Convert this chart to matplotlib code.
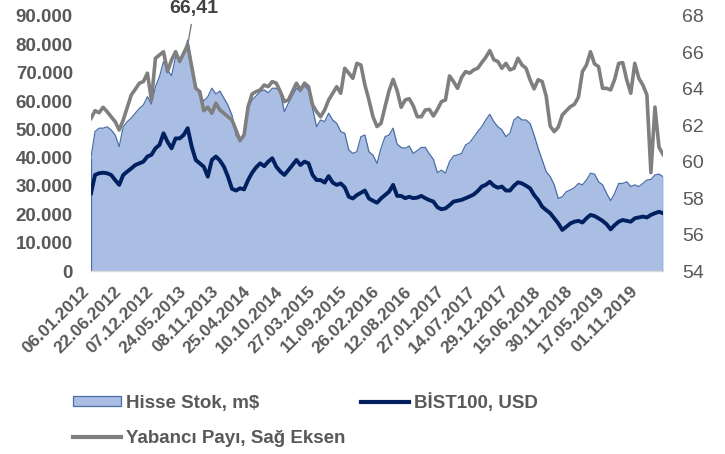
import matplotlib
matplotlib.use("Agg")
import matplotlib.pyplot as plt
import numpy as np
from matplotlib.patches import Patch
from matplotlib.lines import Line2D
from matplotlib.ticker import FuncFormatter, MultipleLocator
import matplotlib.transforms as mtransforms

# ---------------- data (sampled every 3 weeks, week 0 = 06.01.2012) ----------------
weeks = np.arange(0, 427, 3)

# Hisse Stok, m$ (thousands)
hisse_stok_k = [
    40.0, 49.2, 50.4, 50.4, 50.9, 49.8, 48.0, 43.9, 50.9, 52.7,
    54.0, 55.7, 57.4, 58.6, 61.5, 58.9, 65.1, 68.6, 73.9, 70.9,
    68.9, 75.6, 74.5, 76.2, 81.5, 73.3, 65.5, 62.0, 60.0, 61.5,
    64.5, 62.5, 63.5, 61.0, 58.5, 55.0,
    48.0, 45.5, 48.0, 57.4, 60.4, 61.8, 63.3, 63.9, 62.9, 64.5,
    64.5, 63.3, 56.2, 59.2, 61.8, 64.5, 63.3, 65.3, 63.9, 57.4,
    50.9, 53.3, 52.7, 55.7, 53.3, 52.1, 49.2, 48.6, 42.7, 41.5,
    42.1, 47.4, 48.0, 42.1, 40.9, 38.0,
    43.3, 47.4, 48.0, 50.4, 44.8, 43.6, 43.3, 44.1, 41.5, 42.5,
    43.6, 43.6, 41.3, 39.4, 34.7, 35.6, 34.5, 38.6, 40.6, 41.0,
    41.5, 44.5, 45.3, 47.2, 49.2, 50.9, 53.3, 55.3, 52.7, 50.9,
    49.8, 47.4, 48.6, 53.3, 54.5, 53.3,
    53.3, 52.1, 48.0, 43.3, 39.2, 35.1, 33.3, 30.4, 25.6, 26.2,
    28.0, 28.6, 29.4, 30.9, 30.4, 32.1, 34.5, 34.2, 31.5, 30.4,
    27.4, 24.8, 27.4, 30.9, 30.9, 31.5, 29.8, 30.4, 29.8, 30.9,
    32.1, 32.3, 33.9, 34.2, 33.3,
]

# BIST100, USD (thousands, left axis)
bist100_usd_k = [
    27.4, 33.9, 34.5, 34.7, 34.5, 33.9, 32.1, 30.4, 33.9, 35.1,
    36.2, 37.4, 38.0, 38.6, 40.4, 41.0, 43.3, 44.5, 48.6, 45.6,
    43.3, 46.8, 46.8, 48.0, 50.4, 43.9, 39.2, 38.0, 36.8, 33.3,
    39.2, 40.4, 39.0, 36.8, 33.3, 29.0,
    28.4, 29.2, 28.8, 32.1, 34.7, 36.6, 38.0, 37.0, 38.6, 39.8,
    36.8, 35.1, 33.9, 35.6, 37.4, 39.2, 37.4, 38.6, 38.0, 33.9,
    32.1, 32.1, 31.2, 33.5, 31.2, 30.4, 30.9, 29.5, 26.2, 25.6,
    26.8, 27.6, 28.4, 25.6, 24.8, 24.1,
    25.6, 26.8, 28.0, 30.4, 26.5, 26.5, 25.7, 26.2, 25.7, 25.9,
    26.5, 25.7, 25.0, 24.5, 22.5, 21.8, 22.1, 23.2, 24.5, 24.8,
    25.1, 25.7, 26.3, 27.0, 28.2, 29.8, 30.4, 31.5, 30.1, 29.4,
    29.8, 28.4, 28.4, 30.1, 31.3, 30.9,
    30.1, 29.2, 26.8, 25.1, 22.7, 21.5, 20.4, 18.6, 16.8, 14.5,
    15.6, 16.8, 17.4, 17.7, 17.1, 18.6, 19.8, 19.4, 18.6, 17.7,
    16.5, 14.7, 16.2, 17.4, 18.0, 17.7, 17.4, 18.6, 18.9, 19.2,
    18.9, 19.8, 20.4, 20.9, 20.4,
]

# Yabanci Payi, % (right axis)
yabanci_payi = [
    62.38, 62.80, 62.69, 62.99, 62.75, 62.47, 62.20, 61.74, 62.29, 62.99,
    63.67, 63.98, 64.31, 64.40, 64.86, 63.39, 65.68, 65.86, 66.04, 64.95,
    65.59, 66.04, 65.50, 65.95, 66.41, 65.22, 64.03, 63.85, 62.80, 62.99,
    62.66, 63.21, 62.84, 62.66, 62.47, 62.29,
    61.74, 61.16, 61.47, 63.02, 63.72, 63.85, 63.94, 64.21, 64.12, 64.40,
    64.31, 63.85, 63.30, 63.39, 63.85, 64.31, 63.94, 64.31, 64.12, 63.12,
    62.75, 62.47, 62.84, 63.39, 63.76, 64.12, 63.76, 65.13, 64.86, 64.58,
    65.40, 65.31, 64.21, 63.39, 62.47, 61.93,
    62.11, 63.02, 63.90, 64.52, 63.90, 62.99, 63.39, 63.46, 63.07, 62.47,
    62.47, 62.84, 62.87, 62.51, 62.87, 63.30, 63.39, 64.71, 64.40, 64.03,
    64.63, 64.95, 64.86, 65.04, 65.13, 65.44, 65.73, 66.10, 65.60, 65.50,
    65.13, 65.40, 65.04, 65.13, 65.68, 65.31,
    65.13, 64.49, 64.00, 64.50, 64.40, 63.60, 61.95, 61.65, 61.90, 62.57,
    62.80, 63.02, 63.15, 63.54, 64.95, 65.31, 66.04, 65.37, 65.22, 64.03,
    64.03, 63.94, 64.52, 65.40, 65.44, 64.49, 63.76, 65.40, 64.58, 64.21,
    63.67, 59.40, 63.00, 60.80, 60.40,
]

date_labels = [
    "06.01.2012", "22.06.2012", "07.12.2012", "24.05.2013", "08.11.2013",
    "25.04.2014", "10.10.2014", "27.03.2015", "11.09.2015", "26.02.2016",
    "12.08.2016", "27.01.2017", "14.07.2017", "29.12.2017", "15.06.2018",
    "30.11.2018", "17.05.2019", "01.11.2019",
]
label_step_weeks = 24
peak_label = "66,41"

series_names = ["Hisse Stok, m$", "BİST100, USD", "Yabancı Payı, Sağ Eksen"]

# ---------------- style ----------------
FILL = "#AABEE4"
EDGE = "#4A6DA7"
NAVY = "#002060"
GRAY = "#7F7F7F"
TXT = "#595959"

plt.rcParams["font.family"] = ["Liberation Sans", "DejaVu Sans"]

W, H = 725, 454
fig = plt.figure(figsize=(W / 100, H / 100), dpi=100)
ax = fig.add_axes([91 / W, 1 - 271 / H, 572 / W, 255 / H])
ax2 = ax.twinx()

stok = np.array(hisse_stok_k) * 1000
bist = np.array(bist100_usd_k) * 1000
yab = np.array(yabanci_payi)

ax.fill_between(weeks, stok, 0, color=FILL, lw=0, zorder=1)
ax.plot(weeks, stok, color=EDGE, lw=0.9, zorder=2)
ax.vlines([weeks[0], weeks[-1]], 0, [stok[0], stok[-1]], color=EDGE, lw=0.9, zorder=2)
ax.plot(weeks, bist, color=NAVY, lw=2.8, zorder=3, solid_joinstyle="round")
ax2.plot(weeks, yab, color=GRAY, lw=2.6, zorder=4, solid_joinstyle="round")

ax.set_xlim(weeks[0], weeks[-1])
ax.set_ylim(0, 90000)
ax2.set_ylim(54, 68)

ax.yaxis.set_major_locator(MultipleLocator(10000))
ax.yaxis.set_major_formatter(FuncFormatter(lambda v, p: f"{int(round(v)):,}".replace(",", ".")))
ax2.yaxis.set_major_locator(MultipleLocator(2))

ticks = np.arange(len(date_labels)) * label_step_weeks
ax.set_xticks(ticks)
ax.set_xticklabels(date_labels)

for a in (ax, ax2):
    for s in a.spines.values():
        s.set_visible(False)
ax.spines["bottom"].set_visible(True)
ax.spines["bottom"].set_color("#D9D9D9")
ax.spines["bottom"].set_linewidth(1.0)
ax.spines["bottom"].set_zorder(5)

ax.tick_params(axis="x", length=0, pad=13, labelsize=12.5, labelcolor=TXT)
ax.tick_params(axis="y", length=0, pad=13, labelsize=13.5, labelcolor=TXT)
ax2.tick_params(axis="y", length=0, pad=14, labelsize=14, labelcolor=TXT)
shift = mtransforms.ScaledTranslation(-4 / 100, 0, fig.dpi_scale_trans)
for lab in ax.get_xticklabels():
    lab.set_rotation(45)
    lab.set_ha("right")
    lab.set_va("center")
    lab.set_rotation_mode("anchor")
    lab.set_fontweight("bold")
    lab.set_transform(lab.get_transform() + shift)
for lab in ax.get_yticklabels():
    lab.set_fontweight("bold")

ax.set_zorder(1)
ax2.set_zorder(2)
ax2.patch.set_visible(False)

# peak annotation
pk = int(np.argmax(yab))
ax2.annotate(peak_label, xy=(weeks[pk], yab[pk]), xytext=(194, H - 9),
             textcoords="figure pixels", ha="center", va="center",
             fontsize=14, fontweight="bold", color="#404040",
             arrowprops=dict(arrowstyle="-", color=GRAY, lw=1.0, shrinkA=3, shrinkB=2),
             annotation_clip=False)

# legend
h_stok = Patch(facecolor=FILL, edgecolor=EDGE, linewidth=0.9)
h_bist = Line2D([], [], color=NAVY, lw=3)
h_yab = Line2D([], [], color=GRAY, lw=3)
fig.legend(handles=[h_stok, h_yab, h_bist],
           labels=[series_names[0], series_names[2], series_names[1]],
           ncol=2, loc="upper left", bbox_to_anchor=(73 / W, 1 - 393 / H),
           frameon=False, borderpad=0, borderaxespad=0,
           handlelength=2.56, handleheight=0.5, handletextpad=0.25,
           columnspacing=0.87, labelspacing=0.95,
           prop={"size": 13.5, "weight": "bold"}, labelcolor=TXT)

fig.savefig("out.png", dpi=100, facecolor="white")
